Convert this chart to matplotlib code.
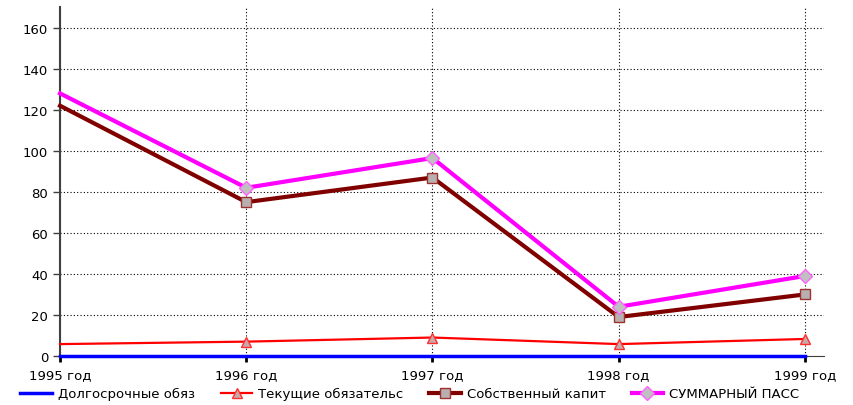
import numpy as np
import matplotlib.pyplot as plt

plt.rcParams['font.family'] = ['DejaVu Sans']

# данные
years = ['1995 год', '1996 год', '1997 год', '1998 год', '1999 год']
long_term = [0, 0, 0, 0, 0]
current = [5.8, 7, 9, 5.8, 8.3]
equity = [122, 75, 87, 19, 30]
total = [128, 82, 96.5, 24, 39]
labels = ['Долгосрочные обяз', 'Текущие обязательс', 'Собственный капит', 'СУММАРНЫЙ ПАСС']

x = np.arange(len(years))

fig = plt.figure(figsize=(8.54, 4.06), dpi=100)
ax = fig.add_axes([0.0703, 0.1207, 0.894, 0.859])

ax.plot(x, long_term, color='#0000ff', linewidth=2.5, label=labels[0], zorder=3, clip_on=False)
ax.plot(x, current, color='#ff0000', linewidth=1.6, marker='^', markersize=7.5,
        markerfacecolor='#c8a8a8', markeredgecolor='#ff3030', markevery=slice(1, None),
        label=labels[1], zorder=4, clip_on=False)
ax.plot(x, equity, color='#800000', linewidth=3, marker='s', markersize=6.5,
        markerfacecolor='#b8b0b0', markeredgecolor='#a03030', markevery=slice(1, None),
        label=labels[2], zorder=5, clip_on=False)
ax.plot(x, total, color='#ff00ff', linewidth=3, marker='D', markersize=7,
        markerfacecolor='#c0c0c0', markeredgecolor='#ff60ff', markevery=slice(1, None),
        label=labels[3], zorder=6, clip_on=False)

ax.set_xlim(0, 4.1)
ax.set_ylim(0, 170)
ax.set_yticks(np.arange(0, 161, 20))
ax.set_xticks(x)
ax.set_xticklabels(years)

ax.grid(True, color='black', linestyle=(0, (1, 2)), linewidth=0.8)
ax.set_axisbelow(True)
for s in ['top', 'right']:
    ax.spines[s].set_visible(False)
ax.spines['left'].set_color('#404040')
ax.spines['left'].set_linewidth(1.5)
ax.spines['bottom'].set_color('#404040')
ax.tick_params(axis='x', length=4, width=2, color='black', labelsize=9.5, pad=4.5)
ax.tick_params(axis='y', length=5, width=1, color='#404040', labelsize=9.5)

leg = ax.legend(loc='upper left', bbox_to_anchor=(-0.052, -0.09), ncol=4, frameon=False,
                fontsize=9.5, handlelength=2.4, columnspacing=1.95, handletextpad=0.45,
                borderaxespad=0, borderpad=0)

fig.savefig('out.png', dpi=100)
